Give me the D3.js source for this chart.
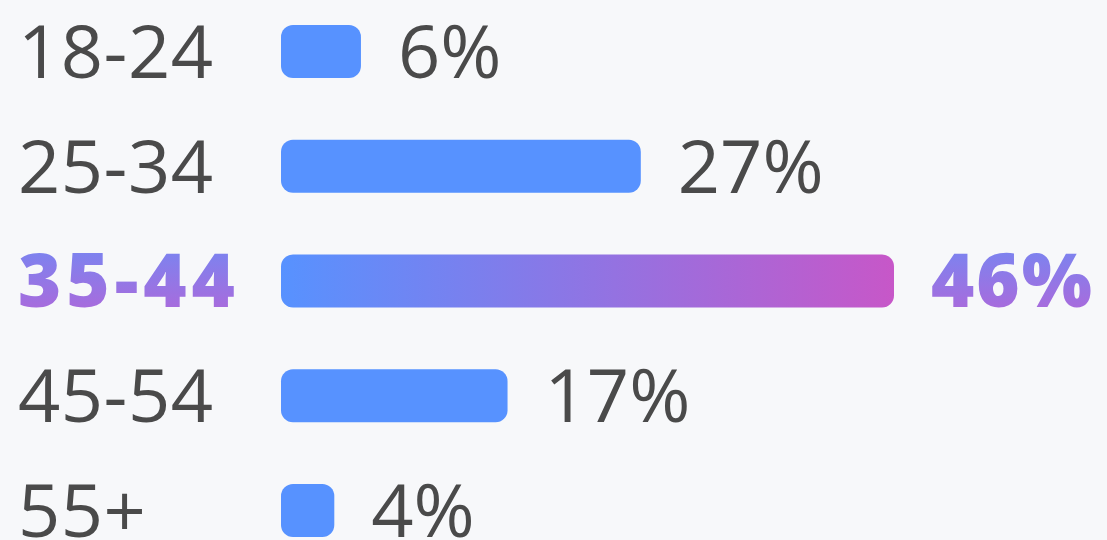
<!DOCTYPE html>
<html>
<head>
<meta charset="utf-8">
<script src="https://cdn.jsdelivr.net/npm/d3@7"></script>
<style>
  html, body { margin: 0; padding: 0; background: #f7f8fa; }
  svg { display: block; }
  text { font-family: "Open Sans", sans-serif; }
</style>
</head>
<body>
<script>
var ageGroups = ["18-24", "25-34", "35-44", "45-54", "55+"];
var shares = [6, 27, 46, 17, 4];
var highlight = "35-44";

var width = 1107, height = 540;
var fontSize = 74;
var capHalf = fontSize * 0.714 / 2;

var svg = d3.select("body").append("svg")
  .attr("width", width)
  .attr("height", height);

var defs = svg.append("defs");

// horizontal gradient for the highlighted bar
var barGrad = defs.append("linearGradient")
  .attr("id", "barGrad")
  .attr("x1", "0%").attr("x2", "100%").attr("y1", "0%").attr("y2", "0%");
barGrad.append("stop").attr("offset", "0%").attr("stop-color", "#5792ff");
barGrad.append("stop").attr("offset", "100%").attr("stop-color", "#c757c8");

// vertical gradient for the highlighted texts
var textGrad = defs.append("linearGradient")
  .attr("id", "textGrad")
  .attr("x1", "0%").attr("x2", "0%").attr("y1", "0%").attr("y2", "100%");
textGrad.append("stop").attr("offset", "0%").attr("stop-color", "#6c8cf6");
textGrad.append("stop").attr("offset", "100%").attr("stop-color", "#b763d6");

var data = ageGroups.map(function(g, i) { return {group: g, value: shares[i]}; });

var x = d3.scaleLinear().domain([0, 46]).range([281, 894]);
var y = d3.scaleBand().domain(ageGroups).range([25, 537]).paddingInner(0.538).paddingOuter(0);

function isHi(d) { return d.group === highlight; }
function baseline(d) { return y(d.group) + y.bandwidth() / 2 + capHalf; }

var rows = svg.selectAll(".row")
  .data(data)
  .enter().append("g")
  .attr("class", "row");

rows.append("rect")
  .attr("x", x(0))
  .attr("y", function(d) { return y(d.group); })
  .attr("width", function(d) { return x(d.value) - x(0); })
  .attr("height", y.bandwidth())
  .attr("rx", 12)
  .attr("fill", function(d) { return isHi(d) ? "url(#barGrad)" : "#5792ff"; });

// age group labels
rows.append("text")
  .attr("x", 18)
  .attr("y", baseline)
  .attr("font-size", fontSize)
  .attr("font-weight", function(d) { return isHi(d) ? 800 : 400; })
  .attr("letter-spacing", function(d) { return isHi(d) ? 5 : 0.5; })
  .attr("fill", function(d) { return isHi(d) ? "url(#textGrad)" : "#4a4a4a"; })
  .text(function(d) { return d.group; });

// value labels
rows.append("text")
  .attr("x", function(d) { return x(d.value) + 37; })
  .attr("y", baseline)
  .attr("font-size", fontSize)
  .attr("font-weight", function(d) { return isHi(d) ? 800 : 400; })
  .attr("letter-spacing", function(d) { return isHi(d) ? 2 : 0; })
  .attr("fill", function(d) { return isHi(d) ? "url(#textGrad)" : "#4a4a4a"; })
  .text(function(d) { return d.value + "%"; });
</script>
</body>
</html>
